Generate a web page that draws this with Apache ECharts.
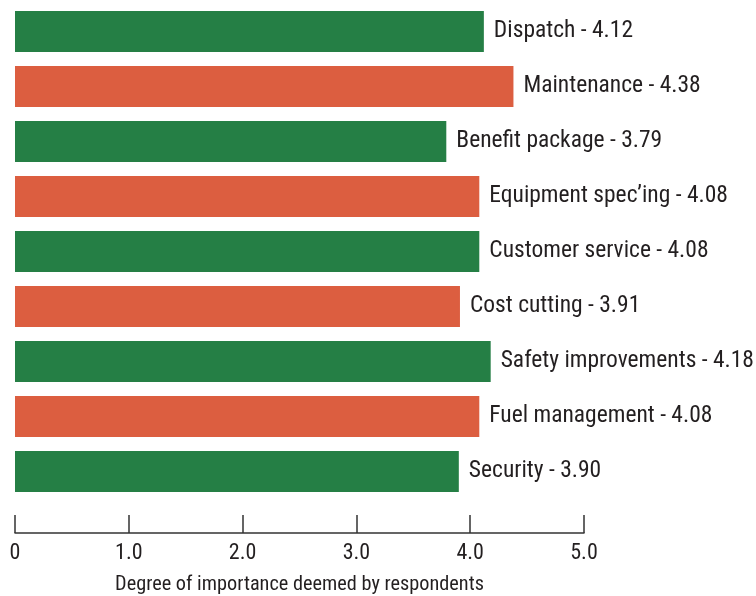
<!DOCTYPE html>
<html>
<head>
<meta charset="utf-8">
<script src="https://cdn.jsdelivr.net/npm/echarts@6/dist/echarts.min.js"></script>
<style>
html,body{margin:0;padding:0;background:#fff;}
#c{width:756px;height:596px;}
</style>
</head>
<body>
<div id="c"></div>
<script>
const categories = ['Dispatch','Maintenance','Benefit package',"Equipment spec\u2019ing",'Customer service','Cost cutting','Safety improvements','Fuel management','Security'];
const values = [4.12, 4.38, 3.79, 4.08, 4.08, 3.91, 4.18, 4.08, 3.90];
const tickLabels = ['0','1.0','2.0','3.0','4.0','5.0'];
const axisTitle = 'Degree of importance deemed by respondents';

const GREEN = '#257f45', ORANGE = '#dc5e40', TEXT = '#231f20';
const FONT = '"Roboto Condensed", "Liberation Sans", Arial, sans-serif';

const chart = echarts.init(document.getElementById('c'), null, {renderer:'canvas'});
chart.setOption({
  animation:false,
  grid:{left:15, right:172, top:4, bottom:97, containLabel:false, outerBoundsMode:'none'},
  xAxis:{
    type:'value', min:0, max:5, interval:1,
    position:'bottom', offset:34,
    axisLine:{show:true, lineStyle:{color:'#333', width:1.5}},
    axisTick:{show:true, inside:true, length:18, lineStyle:{color:'#333', width:1.5}},
    splitLine:{show:false},
    axisLabel:{color:TEXT, fontFamily:FONT, fontSize:22, margin:9,
      formatter:(v)=>tickLabels[Math.round(v)]},
    name:axisTitle, nameLocation:'middle', nameGap:42,
    nameTextStyle:{color:TEXT, fontFamily:FONT, fontSize:20.3}
  },
  yAxis:{
    type:'category', data:categories, inverse:true,
    axisLine:{show:false}, axisTick:{show:false}, axisLabel:{show:false}
  },
  series:[{
    type:'bar', data:values, barWidth:41,
    itemStyle:{color:(p)=>p.dataIndex%2===0?GREEN:ORANGE},
    label:{show:true, position:'right', distance:10, color:TEXT, fontFamily:FONT, fontSize:23.5,
      formatter:(p)=>p.name+' - '+p.value.toFixed(2)}
  }]
});
</script>
</body>
</html>
